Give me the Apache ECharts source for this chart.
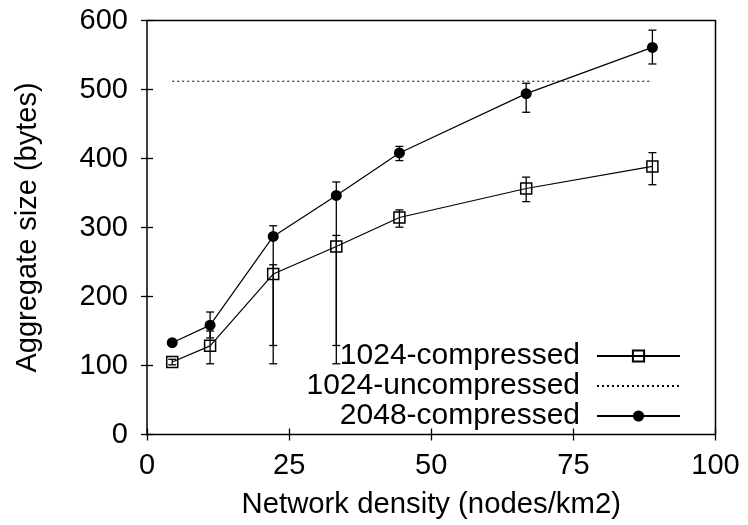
<!DOCTYPE html>
<html>
<head>
<meta charset="utf-8">
<script src="https://cdn.jsdelivr.net/npm/echarts@6/dist/echarts.min.js"></script>
<style>
  html, body { margin: 0; padding: 0; background: #fff; }
  #chart { width: 748px; height: 525px; }
</style>
</head>
<body>
<div id="chart"></div>
<script>
// Network density (nodes/km2)
const density = [4.44, 11.1, 22.2, 33.3, 44.4, 66.7, 88.9];

// 1024-compressed: mean, lower and upper error bounds
const comp1024 = [105, 128.5, 232.5, 272.5, 314.5, 356.5, 388.5];
const comp1024Low = [101, 102.5, 129, 129, 300.5, 337.5, 362];
const comp1024High = [109, 150, 246, 288.5, 325.5, 373, 408.5];

// 1024-uncompressed: constant size
const uncomp1024 = [512, 512, 512, 512, 512, 512, 512];

// 2048-compressed: mean, lower and upper error bounds
const comp2048 = [133, 158.5, 287, 346.5, 408, 494, 561];
const comp2048Low = [131, 140, 102.5, 102.5, 397, 467, 537];
const comp2048High = [135, 177.5, 302.5, 366, 417.5, 509, 586];

const xTicks = [0, 25, 50, 75, 100];
const yTicks = [0, 100, 200, 300, 400, 500, 600];

const FONT = "'Liberation Sans', Arial, Helvetica, sans-serif";
const FS = 29;

const pairs = (ys) => density.map((x, i) => [x, ys[i]]);
const bars = (lo, hi) => density.map((x, i) => [x, lo[i], hi[i]]);

function renderErrorBar(params, api) {
  const x = api.value(0);
  const pLo = api.coord([x, api.value(1)]);
  const pHi = api.coord([x, api.value(2)]);
  const cap = 4;
  const style = { stroke: '#000', lineWidth: 1.3 };
  return {
    type: 'group',
    children: [
      { type: 'line', shape: { x1: pLo[0], y1: pLo[1], x2: pHi[0], y2: pHi[1] }, style },
      { type: 'line', shape: { x1: pLo[0] - cap, y1: pLo[1], x2: pLo[0] + cap, y2: pLo[1] }, style },
      { type: 'line', shape: { x1: pHi[0] - cap, y1: pHi[1], x2: pHi[0] + cap, y2: pHi[1] }, style }
    ]
  };
}

const axisCommon = {
  axisLine: { show: false },
  splitLine: { show: false },
  axisTick: { show: true, inside: true, length: 6, lineStyle: { color: '#000', width: 1.3 } },
  axisLabel: { color: '#000', fontFamily: FONT, fontSize: FS }
};

const chart = echarts.init(document.getElementById('chart'), null, { renderer: 'canvas' });
chart.setOption({
  backgroundColor: '#fff',
  animation: false,
  grid: {
    left: 147, right: 32.5, top: 20.5, bottom: 90.5,
    show: true, borderColor: '#000', borderWidth: 1.5, backgroundColor: 'transparent'
  },
  xAxis: [
    Object.assign({}, axisCommon, {
      type: 'value', min: xTicks[0], max: xTicks[xTicks.length - 1], interval: 25,
      position: 'bottom',
      name: 'Network density (nodes/km2)', nameLocation: 'middle', nameGap: 56,
      nameTextStyle: { color: '#000', fontFamily: FONT, fontSize: 29.3 },
      axisLabel: Object.assign({}, axisCommon.axisLabel, { margin: 17 })
    }),
    Object.assign({}, axisCommon, {
      type: 'value', min: xTicks[0], max: xTicks[xTicks.length - 1], interval: 25,
      position: 'top', axisLabel: { show: false }
    })
  ],
  yAxis: [
    Object.assign({}, axisCommon, {
      type: 'value', min: yTicks[0], max: yTicks[yTicks.length - 1], interval: 100,
      position: 'left',
      name: 'Aggregate size (bytes)', nameLocation: 'middle', nameGap: 105,
      nameTextStyle: { color: '#000', fontFamily: FONT, fontSize: FS },
      axisLabel: Object.assign({}, axisCommon.axisLabel, { margin: 19 })
    }),
    Object.assign({}, axisCommon, {
      type: 'value', min: yTicks[0], max: yTicks[yTicks.length - 1], interval: 100,
      position: 'right', axisLabel: { show: false }
    })
  ],
  legend: {
    data: [
      { name: '1024-compressed' },
      { name: '1024-uncompressed', itemStyle: { color: 'rgba(0,0,0,0)', borderWidth: 0, opacity: 0 } },
      { name: '2048-compressed' }
    ],
    orient: 'vertical', align: 'right',
    right: 62, top: 336,
    itemWidth: 83, itemHeight: 14, itemGap: 0,
    textStyle: { color: '#000', fontFamily: FONT, fontSize: 30, lineHeight: 29, padding: [0, 12, 0, 0] }
  },
  series: [
    {
      type: 'custom', renderItem: renderErrorBar, data: bars(comp1024Low, comp1024High),
      encode: { x: 0, y: [1, 2] }, z: 3, silent: true
    },
    {
      type: 'custom', renderItem: renderErrorBar, data: bars(comp2048Low, comp2048High),
      encode: { x: 0, y: [1, 2] }, z: 3, silent: true
    },
    {
      name: '1024-compressed', type: 'line', data: pairs(comp1024),
      symbol: 'rect', symbolSize: 11, showSymbol: true,
      lineStyle: { color: '#000', width: 1.2 },
      itemStyle: { color: 'rgba(0,0,0,0)', borderColor: '#000', borderWidth: 1.5 },
      z: 4
    },
    {
      name: '1024-uncompressed', type: 'line', data: pairs(uncomp1024),
      symbol: 'none',
      lineStyle: { color: '#000', width: 1, type: [2, 3] },
      itemStyle: { color: '#000' },
      z: 4
    },
    {
      name: '2048-compressed', type: 'line', data: pairs(comp2048),
      symbol: 'circle', symbolSize: 11, showSymbol: true,
      lineStyle: { color: '#000', width: 1.2 },
      itemStyle: { color: '#000' },
      z: 4
    }
  ]
});
</script>
</body>
</html>
